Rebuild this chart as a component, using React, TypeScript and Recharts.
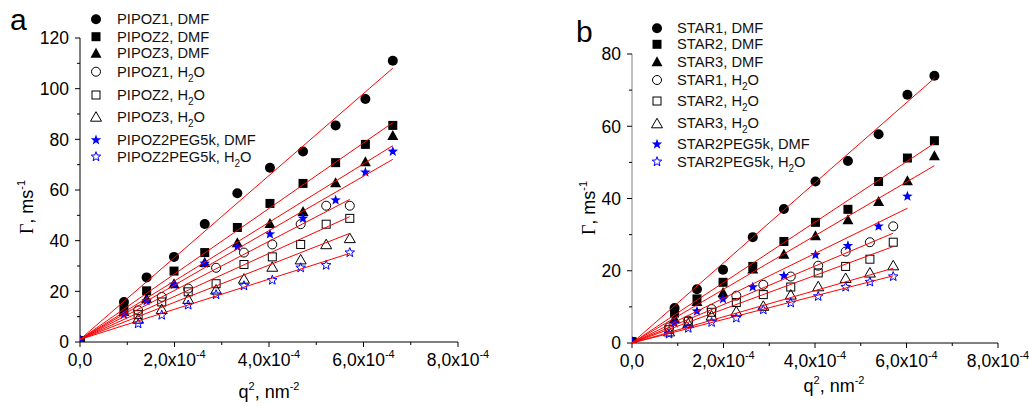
import React from 'react';
import { ScatterChart, Scatter, XAxis, YAxis } from 'recharts';

const FONT = '"Liberation Sans", Arial, sans-serif';

// ---- panel a (PIPOZ), q^2 in nm^-2, gamma in ms^-1
const qDmfA = [0, 0.93e-4, 1.41e-4, 1.99e-4, 2.64e-4, 3.33e-4, 4.02e-4, 4.72e-4, 5.41e-4, 6.04e-4, 6.62e-4];
const qH2oA = [0, 1.23e-4, 1.73e-4, 2.29e-4, 2.88e-4, 3.47e-4, 4.07e-4, 4.67e-4, 5.21e-4, 5.71e-4];
const pipoz1Dmf = [0.5, 15.8, 25.5, 33.6, 46.6, 58.7, 68.8, 75.2, 85.5, 95.9, 111];
const pipoz2Dmf = [0.5, 13, 20.2, 28, 35.3, 45.2, 54.7, 62.6, 70.8, 78, 85.5];
const pipoz3Dmf = [0.5, 12, 17.2, 23, 31.4, 39.2, 46.8, 51.5, 62.9, 71.2, 81.5];
const pegDmfA = [0.5, 10.8, 16.2, 22.7, 31, 37.6, 42.6, 48.8, 56, 67, 75.2];
const pipoz1H2o = [0.5, 12.5, 17.8, 21.1, 29.3, 35.3, 38.5, 46.5, 53.8, 53.8];
const pipoz2H2o = [0.5, 10.8, 15.8, 19.8, 23, 30.6, 33.6, 38.5, 46.5, 48.8];
const pipoz3H2o = [0.5, 9.2, 13, 17, 20.7, 25, 29.7, 32.6, 38.6, 41];
const pegH2oA = [0.5, 7.2, 10.6, 14.6, 18.7, 22.2, 24.4, 29.3, 30.3, 35.3];
// linear fits: start (q=0) and end points
const fitY0A = [1, 1, 1, 1, 1, 1, 1, 1];
const fitXA = [6.62e-4, 6.62e-4, 6.62e-4, 6.62e-4, 5.71e-4, 5.71e-4, 5.71e-4, 5.71e-4];
const fitYA = [108.1, 86.6, 77.5, 72.1, 56.3, 49.5, 42.9, 35];
const namesA = ['PIPOZ1, DMF', 'PIPOZ2, DMF', 'PIPOZ3, DMF', 'PIPOZ1, H2O', 'PIPOZ2, H2O', 'PIPOZ3, H2O', 'PIPOZ2PEG5k, DMF', 'PIPOZ2PEG5k, H2O'];
const yTicksA = [0, 10, 20, 30, 40, 50, 60, 70, 80, 90, 100, 110, 120];

// ---- panel b (STAR)
const qDmfB = [0, 0.93e-4, 1.42e-4, 1.99e-4, 2.64e-4, 3.32e-4, 4.01e-4, 4.72e-4, 5.39e-4, 6.02e-4, 6.61e-4];
const qH2oB = [0, 0.81e-4, 1.23e-4, 1.74e-4, 2.28e-4, 2.87e-4, 3.47e-4, 4.07e-4, 4.67e-4, 5.2e-4, 5.71e-4];
const star1Dmf = [0.3, 9.7, 14.9, 20.3, 29.3, 37.1, 44.7, 50.4, 57.8, 68.7, 74];
const star2Dmf = [0.3, 8.3, 12.2, 16.8, 21.2, 28.1, 33.4, 37, 44.7, 51.2, 56];
const star3Dmf = [0.3, 6.8, 11.5, 14, 20.5, 24.6, 29.7, 34.1, 39.2, 44.9, 51.8];
const pegDmfB = [0.3, 5.5, 8.8, 12.2, 15.5, 18.6, 24.4, 26.9, 32.3, 40.6];
const star1H2o = [0.3, 4.3, 6.2, 9.4, 13.1, 16.1, 18.4, 21.4, 25.3, 27.9, 32.3];
const star2H2o = [0.3, 3.7, 6, 8.5, 11.2, 13.4, 15.5, 19.4, 21.2, 23.2, 27.9];
const star3H2o = [0.3, 3.2, 5.5, 7.6, 8.8, 10.3, 13.4, 15.7, 18, 19.5, 21.5];
const pegH2oB = [0.3, 2.5, 4.1, 5.7, 6.9, 9.2, 11.1, 12.9, 15.5, 16.9, 18.4];
const fitY0B = [0, 0, 0, 0, 0, 0, 0, 0];
const fitXB = [6.61e-4, 6.61e-4, 6.61e-4, 6.02e-4, 5.71e-4, 5.71e-4, 5.71e-4, 5.71e-4];
const fitYB = [73.3, 55.3, 49.1, 37.3, 30.4, 26.7, 20.7, 18.6];
const namesB = ['STAR1, DMF', 'STAR2, DMF', 'STAR3, DMF', 'STAR1, H2O', 'STAR2, H2O', 'STAR3, H2O', 'STAR2PEG5k, DMF', 'STAR2PEG5k, H2O'];
const yTicksB = [0, 10, 20, 30, 40, 50, 60, 70, 80];

const xTicks = [0, 1e-4, 2e-4, 3e-4, 4e-4, 5e-4, 6e-4, 7e-4, 8e-4];
const kinds = ['circle', 'square', 'triangle', 'ocircle', 'osquare', 'otriangle', 'star', 'ostar'];

const pts = (xs: number[], ys: number[]) => ys.map((y, i) => ({ x: xs[i], y }));

const seriesA = [
  pts(qDmfA, pipoz1Dmf), pts(qDmfA, pipoz2Dmf), pts(qDmfA, pipoz3Dmf),
  pts(qH2oA, pipoz1H2o), pts(qH2oA, pipoz2H2o), pts(qH2oA, pipoz3H2o),
  pts(qDmfA, pegDmfA), pts(qH2oA, pegH2oA),
];
const seriesB = [
  pts(qDmfB, star1Dmf), pts(qDmfB, star2Dmf), pts(qDmfB, star3Dmf),
  pts(qH2oB, star1H2o), pts(qH2oB, star2H2o), pts(qH2oB, star3H2o),
  pts(qDmfB, pegDmfB), pts(qH2oB, pegH2oB),
];
const fits = (y0: number[], xe: number[], ye: number[]) =>
  ye.map((y, i) => [{ x: 0, y: y0[i] }, { x: xe[i], y }]);

const starPath = (cx: number, cy: number, r: number) => {
  const p: string[] = [];
  for (let i = 0; i < 10; i++) {
    const rr = i % 2 === 0 ? r : r * 0.42;
    const a = -Math.PI / 2 + (i * Math.PI) / 5;
    p.push(`${cx + rr * Math.cos(a)},${cy + rr * Math.sin(a)}`);
  }
  return 'M' + p.join('L') + 'Z';
};

const Marker = ({ kind, cx, cy }: { kind: string; cx: number; cy: number }) => {
  switch (kind) {
    case 'circle':
      return <circle cx={cx} cy={cy} r={5} fill="#000" />;
    case 'square':
      return <rect x={cx - 4.5} y={cy - 4.5} width={9} height={9} fill="#000" />;
    case 'triangle':
      return <path d={`M${cx},${cy - 5.5}L${cx + 5.5},${cy + 4.5}L${cx - 5.5},${cy + 4.5}Z`} fill="#000" />;
    case 'ocircle':
      return <circle cx={cx} cy={cy} r={4.5} fill="none" stroke="#000" />;
    case 'osquare':
      return <rect x={cx - 4} y={cy - 4} width={8} height={8} fill="none" stroke="#000" />;
    case 'otriangle':
      return <path d={`M${cx},${cy - 5}L${cx + 5.5},${cy + 4.5}L${cx - 5.5},${cy + 4.5}Z`} fill="none" stroke="#000" />;
    case 'star':
      return <path d={starPath(cx, cy, 5.5)} fill="#0000ff" />;
    default:
      return <path d={starPath(cx, cy, 5)} fill="none" stroke="#0000ff" />;
  }
};

const XTick = (props: any) => {
  const { x, y, payload } = props;
  const k = Math.round(payload.value * 1e4);
  const major = k % 2 === 0;
  return (
    <g>
      <line x1={x} x2={x} y1={y} y2={y + (major ? 5 : 3)} stroke="#000" />
      {major && (
        <text x={x} y={y + 24} textAnchor="middle" fontSize={17.5} fontFamily={FONT} fill="#000">
          {k === 0 ? (
            '0,0'
          ) : (
            <>
              <tspan>{k},0x10</tspan>
              <tspan dy={-8} fontSize={11}>-4</tspan>
            </>
          )}
        </text>
      )}
    </g>
  );
};

const makeYTick = (step: number) => (props: any) => {
  const { x, y, payload } = props;
  const major = payload.value % step === 0;
  return (
    <g>
      <line x1={x} x2={x - (major ? 5 : 3)} y1={y} y2={y} stroke="#000" />
      {major && (
        <text x={x - 11} y={y} dy="0.36em" textAnchor="end" fontSize={17.5} fontFamily={FONT} fill="#000">
          {payload.value}
        </text>
      )}
    </g>
  );
};

const LegendName = ({ name }: { name: string }) => {
  if (name.endsWith('H2O')) {
    return (
      <>
        <tspan>{name.slice(0, -2)}</tspan>
        <tspan dy={5} fontSize={10}>2</tspan>
        <tspan dy={-5}>O</tspan>
      </>
    );
  }
  return <tspan>{name}</tspan>;
};

interface PanelProps {
  left: number;
  width: number;
  margin: { top: number; right: number; bottom: number; left: number };
  yMax: number;
  yTicks: number[];
  yStep: number;
  yAxisColor: string;
  series: { x: number; y: number }[][];
  fitLines: { x: number; y: number }[][];
}

const Panel = ({ left, width, margin, yMax, yTicks, yStep, yAxisColor, series, fitLines }: PanelProps) => (
  <div style={{ position: 'absolute', left, top: 0 }}>
    <ScatterChart width={width} height={406} margin={margin}>
      <XAxis
        type="number"
        dataKey="x"
        domain={[0, 8e-4]}
        ticks={xTicks}
        interval={0}
        tickSize={0}
        tickMargin={0}
        tickLine={false}
        tick={<XTick />}
        height={30}
        axisLine={{ stroke: '#000' }}
        allowDataOverflow
      />
      <YAxis
        type="number"
        dataKey="y"
        domain={[0, yMax]}
        ticks={yTicks}
        interval={0}
        tickSize={0}
        tickMargin={0}
        tickLine={false}
        tick={makeYTick(yStep)}
        width={60}
        axisLine={{ stroke: yAxisColor }}
        allowDataOverflow
      />
      {series.map((d, i) => (
        <Scatter
          key={'s' + i}
          data={d}
          isAnimationActive={false}
          shape={(p: any) => <Marker kind={kinds[i]} cx={p.cx} cy={p.cy} />}
        />
      ))}
      {fitLines.map((d, i) => (
        <Scatter
          key={'f' + i}
          data={d}
          isAnimationActive={false}
          line={{ stroke: '#ff0000', strokeWidth: 1 }}
          shape={() => <g />}
        />
      ))}
    </ScatterChart>
  </div>
);

const legendRowsA = [19.3, 36.7, 53.3, 71.7, 95, 116.7, 140, 156.7];
const legendRowsB = [28.3, 44.3, 61.7, 80, 101, 123.3, 144.3, 161.7];

const Overlay = () => (
  <svg width={1029} height={406} style={{ position: 'absolute', left: 0, top: 0, pointerEvents: 'none' }} fontFamily={FONT}>
    <text x={10} y={30} fontSize={30}>a</text>
    <text x={576} y={42} fontSize={30}>b</text>
    {namesA.map((n, i) => (
      <g key={'la' + i}>
        <Marker kind={kinds[i]} cx={96} cy={legendRowsA[i]} />
        <text x={117} y={legendRowsA[i] + 5} fontSize={14.7} fill="#111">
          <LegendName name={n} />
        </text>
      </g>
    ))}
    {namesB.map((n, i) => (
      <g key={'lb' + i}>
        <Marker kind={kinds[i]} cx={657} cy={legendRowsB[i]} />
        <text x={677} y={legendRowsB[i] + 5} fontSize={14.7} fill="#111">
          <LegendName name={n} />
        </text>
      </g>
    ))}
    {[
      { x: 269, y: 398 },
      { x: 834, y: 392 },
    ].map((p, i) => (
      <text key={'xt' + i} x={p.x} y={p.y} textAnchor="middle" fontSize={18}>
        <tspan>q</tspan>
        <tspan dy={-8} fontSize={11}>2</tspan>
        <tspan dy={8}>, nm</tspan>
        <tspan dy={-8} fontSize={11}>-2</tspan>
      </text>
    ))}
    {[
      { x: 33, y: 207 },
      { x: 595, y: 208 },
    ].map((p, i) => (
      <text key={'yt' + i} transform={`translate(${p.x},${p.y}) rotate(-90)`} textAnchor="middle" fontSize={18}>
        <tspan fontFamily='"Liberation Serif", serif'>Γ</tspan>
        <tspan>, ms</tspan>
        <tspan dy={-8} fontSize={11}>-1</tspan>
      </text>
    ))}
  </svg>
);

export default function App() {
  return (
    <div style={{ position: 'absolute', left: 0, top: 0, width: 1029, height: 406, background: '#fff', overflow: 'hidden' }}>
      <Panel
        left={0}
        width={520}
        margin={{ top: 38, right: 62, bottom: 34, left: 20 }}
        yMax={120}
        yTicks={yTicksA}
        yStep={20}
        yAxisColor="#000"
        series={seriesA}
        fitLines={fits(fitY0A, fitXA, fitYA)}
      />
      <Panel
        left={520}
        width={509}
        margin={{ top: 54, right: 31, bottom: 33, left: 52 }}
        yMax={80}
        yTicks={yTicksB}
        yStep={20}
        yAxisColor="#808080"
        series={seriesB}
        fitLines={fits(fitY0B, fitXB, fitYB)}
      />
      <Overlay />
    </div>
  );
}
